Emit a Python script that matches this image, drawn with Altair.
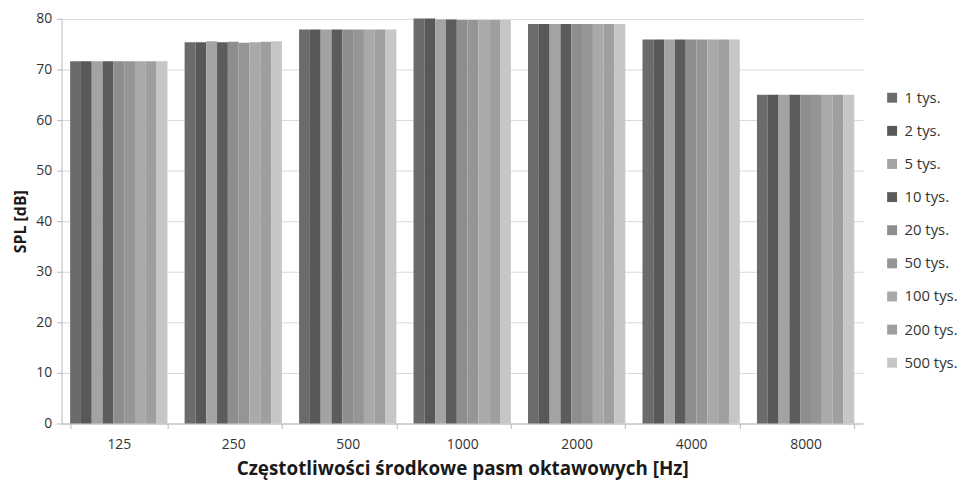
import altair as alt
import pandas as pd

freqs = ["125", "250", "500", "1000", "2000", "4000", "8000"]
series = ["1 tys.", "2 tys.", "5 tys.", "10 tys.", "20 tys.", "50 tys.", "100 tys.", "200 tys.", "500 tys."]
colors = ["#6b6b6b", "#585858", "#a3a3a3", "#5c5c5c", "#8e8e8e", "#959595", "#a9a9a9", "#9f9f9f", "#c6c6c6"]

v125 = [71.6, 71.6, 71.6, 71.6, 71.6, 71.6, 71.6, 71.6, 71.6]
v250 = [75.4, 75.4, 75.6, 75.4, 75.5, 75.3, 75.4, 75.5, 75.6]
v500 = [77.9, 77.9, 77.9, 77.9, 77.9, 77.9, 77.9, 77.9, 77.9]
v1000 = [80.1, 80.1, 79.9, 79.9, 79.8, 79.8, 79.8, 79.8, 79.8]
v2000 = [79.0, 79.0, 79.0, 79.0, 79.0, 79.0, 79.0, 79.0, 79.0]
v4000 = [75.9, 75.9, 75.9, 75.9, 75.9, 75.9, 75.9, 75.9, 75.9]
v8000 = [65.0, 65.0, 65.0, 65.0, 65.0, 65.0, 65.0, 65.0, 65.0]

all_vals = [v125, v250, v500, v1000, v2000, v4000, v8000]
rows = []
for f, vals in zip(freqs, all_vals):
    for s, v in zip(series, vals):
        rows.append({"freq": f, "series": s, "spl": v})
df = pd.DataFrame(rows)

font = "Open Sans"

chart = alt.Chart(df).mark_bar().encode(
    x=alt.X("freq:N", sort=freqs,
            scale=alt.Scale(paddingInner=0.15, paddingOuter=0.075),
            axis=alt.Axis(title="Częstotliwości środkowe pasm oktawowych [Hz]",
                          labelAngle=0, tickBand="extent", tickSize=5,
                          labelPadding=9, titlePadding=8, titleFontSize=19)),
    xOffset=alt.XOffset("series:N", sort=series),
    y=alt.Y("spl:Q", scale=alt.Scale(domain=[0, 80]),
            axis=alt.Axis(title="SPL [dB]", values=list(range(0, 81, 10)),
                          tickSize=5, labelPadding=5, titlePadding=7, titleFontSize=16)),
    color=alt.Color("series:N", sort=series,
                    scale=alt.Scale(domain=series, range=colors),
                    legend=alt.Legend(title=None, orient="none", legendX=830, legendY=72,
                                      symbolType="square", symbolSize=100,
                                      symbolStrokeWidth=0,
                                      labelFontSize=15, labelFont=font, labelColor="#333333",
                                      rowPadding=17.4, labelOffset=5)),
).properties(
    width=808, height=408,
    autosize=alt.AutoSizeParams(type="none"),
    padding={"left": 54, "top": 9, "right": 102, "bottom": 56},
).configure_view(strokeWidth=0).configure_axis(
    domainColor="#b8b8b8", tickColor="#b8b8b8", gridColor="#d9d9d9",
    labelFont=font, titleFont=font, labelFontSize=14, labelColor="#333333",
    titleColor="#1a1a1a", titleFontWeight="bold",
).configure_axisX(grid=False).configure_axisY(grid=True)

chart.save("out.html", embed_options={"renderer": "svg", "actions": False})
